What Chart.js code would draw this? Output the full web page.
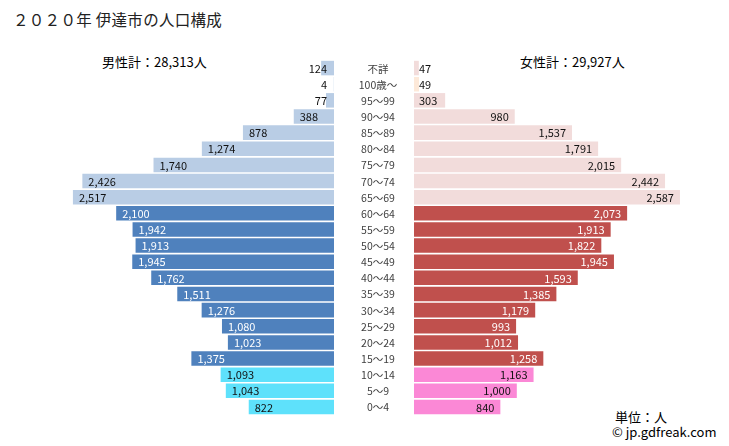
<!DOCTYPE html>
<html><head><meta charset="utf-8">
<script src="https://cdn.jsdelivr.net/npm/chart.js@4/dist/chart.umd.min.js"></script>
<style>
html,body{margin:0;padding:0;background:#fff;width:729px;height:446px;overflow:hidden;font-family:"Noto Sans CJK JP","Noto Sans",sans-serif;}
.t{position:absolute;white-space:nowrap;color:#000;}
#maleWrap{position:absolute;left:0;top:60px;width:414px;height:355px;}
#femaleWrap{position:absolute;left:414px;top:60px;width:315px;height:355px;}
</style></head><body>
<div class="t" style="left:13px;top:8px;font-size:15.5px;letter-spacing:0.3px;color:#222">２０２０年 伊達市の人口構成</div>
<div class="t" style="left:102px;top:52px;font-size:13px;">男性計：28,313人</div>
<div class="t" style="left:520px;top:52px;font-size:13px;">女性計：29,927人</div>
<div class="t" style="left:615px;top:407px;font-size:13px;">単位：人</div>
<div class="t" style="left:612px;top:422px;font-size:13px;">© jp.gdfreak.com</div>
<div id="maleWrap"><canvas id="male"></canvas></div>
<div id="femaleWrap"><canvas id="female"></canvas></div>
<script>
const categories = ["不詳","100歳～","95～99","90～94","85～89","80～84","75～79","70～74","65～69","60～64","55～59","50～54","45～49","40～44","35～39","30～34","25～29","20～24","15～19","10～14","5～9","0～4"];
const maleValues = [124,4,77,388,878,1274,1740,2426,2517,2100,1942,1913,1945,1762,1511,1276,1080,1023,1375,1093,1043,822];
const femaleValues = [47,49,303,980,1537,1791,2015,2442,2587,2073,1913,1822,1945,1593,1385,1179,993,1012,1258,1163,1000,840];

function group(i){ return i <= 8 ? 'old' : (i <= 18 ? 'work' : 'young'); }
const maleColors = categories.map((c,i)=> i===1 ? '#dce6f2' : ({old:'#b9cde5',work:'#4f81bd',young:'#5ee1fb'})[group(i)]);
const femaleColors = categories.map((c,i)=> i===1 ? '#fde9d9' : ({old:'#f2dcdb',work:'#c0504d',young:'#fb88d6'})[group(i)]);
const labelColor = i => group(i)==='work' ? '#ffffff' : '#111111';
const fmt = v => v.toLocaleString('en-US');
const FAMILY = '"Noto Sans CJK JP", "Noto Sans", sans-serif';
const LABEL_FONT = '11px ' + FAMILY;

const labelPlugin = {
  id:'barLabels',
  afterDatasetsDraw(chart){
    const ctx = chart.ctx;
    const meta = chart.getDatasetMeta(0);
    const opts = chart.options.plugins.barLabels;
    const side = opts.side;
    ctx.save();
    ctx.font = LABEL_FONT;
    ctx.textBaseline = 'middle';
    meta.data.forEach((el,i)=>{
      const v = chart.data.datasets[0].data[i];
      const txt = fmt(v);
      const w = ctx.measureText(txt).width;
      const barW = Math.abs(el.x - el.base);
      ctx.fillStyle = labelColor(i);
      if(side==='left'){
        if(barW < w + 14){ ctx.textAlign='right'; ctx.fillStyle='#111'; ctx.fillText(txt, el.base-7, el.y+0.5); }
        else { ctx.textAlign='left'; ctx.fillText(txt, el.x+6, el.y+0.5); }
      } else {
        if(barW < w + 14){ ctx.textAlign='left'; ctx.fillStyle='#111'; ctx.fillText(txt, el.base+5, el.y+0.5); }
        else { ctx.textAlign='right'; ctx.fillText(txt, el.x-6, el.y+0.5); }
      }
    });
    if(opts.categories){
      const ys = chart.scales.y;
      ctx.font = '10.5px ' + FAMILY;
      ctx.fillStyle = '#404040';
      ctx.textAlign = 'center';
      chart.data.labels.forEach((lab,i)=>{
        ctx.fillText(lab, chart.chartArea.right + 44, ys.getPixelForValue(i) + 0.5);
      });
    }
    ctx.restore();
  }
};

const common = {
  indexAxis:'y', responsive:true, maintainAspectRatio:false, animation:false,
  datasets:{bar:{categoryPercentage:0.9, barPercentage:1.0}},
};

new Chart(document.getElementById('male'), {
  type:'bar',
  data:{labels:categories, datasets:[{data:maleValues, backgroundColor:maleColors, borderWidth:0}]},
  options:Object.assign({}, common, {
    layout:{padding:{left:0, right:80, top:0, bottom:0}},
    plugins:{legend:{display:false}, tooltip:{enabled:false}, barLabels:{side:'left', categories:true}},
    scales:{
      x:{display:false, reverse:true, min:0, max:3220},
      y:{display:false}
    }
  }),
  plugins:[labelPlugin]
});

new Chart(document.getElementById('female'), {
  type:'bar',
  data:{labels:categories, datasets:[{data:femaleValues, backgroundColor:femaleColors, borderWidth:0}]},
  options:Object.assign({}, common, {
    layout:{padding:0},
    plugins:{legend:{display:false}, tooltip:{enabled:false}, barLabels:{side:'right', categories:false}},
    scales:{
      x:{display:false, min:0, max:3064},
      y:{display:false}
    }
  }),
  plugins:[labelPlugin]
});
</script>
</body></html>
